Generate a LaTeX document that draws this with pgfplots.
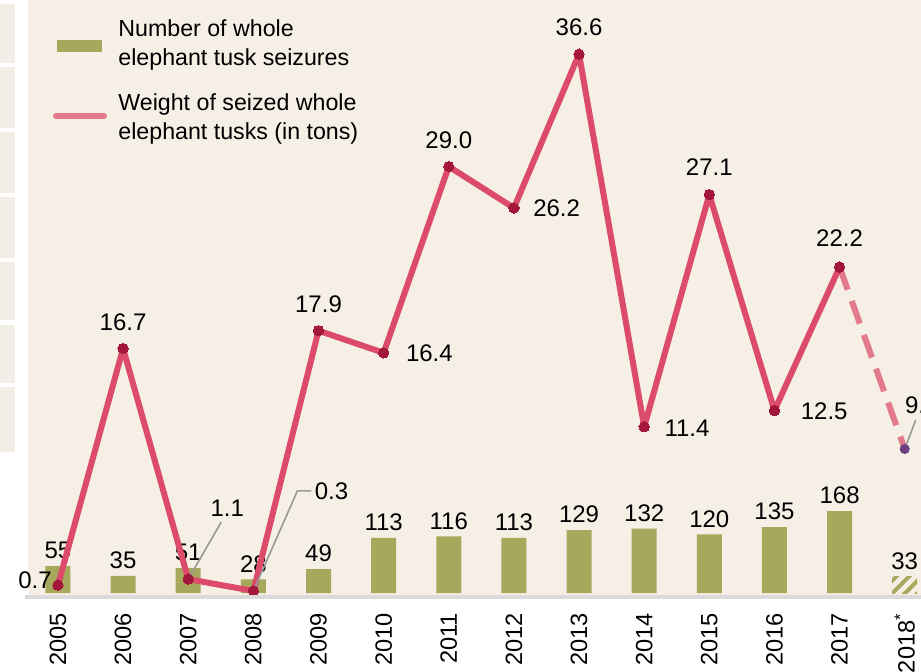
\documentclass[border=0pt]{standalone}
\usepackage{pgfplots}
\pgfplotsset{compat=1.18}
\usepackage{fontspec}
\setmainfont{Liberation Sans}
\usetikzlibrary{patterns.meta}

\definecolor{bg}{HTML}{F5EFE6}
\definecolor{cell}{HTML}{F2EDE6}
\definecolor{olive}{HTML}{A8A85C}
\definecolor{linered}{HTML}{DC4B69}
\definecolor{dotred}{HTML}{A3173A}
\definecolor{dashpink}{HTML}{E27A8B}
\definecolor{purp}{HTML}{6E3F7C}
\definecolor{base}{HTML}{DADADA}

\newcommand{\lab}{\fontsize{12}{12}\selectfont}

\begin{document}
\begin{tikzpicture}
\tikzset{wl/.style={font=\lab, inner sep=0pt}, lead/.style={gray!80, line width=0.8pt}}
% bars: number of seizures
\begin{axis}[
  name=ax, scale only axis, width=446.5pt, height=298.5pt,
  xmin=-0.46, xmax=13.25, ymin=-8.2, ymax=1215,
  axis line style={draw=none}, axis background/.style={fill=bg},
  ytick=\empty, xtick={0,...,13},
  xticklabels={2005,2006,2007,2008,2009,2010,2011,2012,2013,2014,2015,2016,2017,2018\textsuperscript{*}},
  x tick label style={rotate=90, anchor=east, font=\fontsize{11.8}{11.8}\selectfont, xshift=-4.5pt},
  major tick length=0pt, clip=false,
  nodes near coords,
  nodes near coords style={font=\lab, text=black, /pgf/number format/assume math mode=true},
]
\addplot[ybar, bar width=12.5pt, bar shift=0pt, fill=olive, draw=none]
  coordinates {(0,55) (1,35) (2,51) (3,28) (4,49) (5,113) (6,116) (7,113) (8,129) (9,132) (10,120) (11,135) (12,168)};
\addplot[ybar, bar width=12.5pt, bar shift=0pt, draw=none,
  pattern={Lines[angle=45,distance=4.5pt,line width=2pt]}, pattern color=olive]
  coordinates {(13,33)};
\end{axis}
% line: weight in tons
\begin{axis}[
  scale only axis, width=446.5pt, height=298.5pt,
  xmin=-0.46, xmax=13.25, ymin=-0.11, ymax=40.26,
  hide axis, clip=false,
]
\addplot[dashpink, line width=3pt, dash pattern=on 12pt off 6pt]
  coordinates {(12,22.2) (13,9.9)};
\addplot[linered, line width=3pt, line join=round, mark=*, mark size=2.6pt,
  mark options={fill=dotred, draw=dotred, line width=0pt}]
  coordinates {(0,0.7) (1,16.7) (2,1.1) (3,0.3) (4,17.9) (5,16.4) (6,29.0) (7,26.2) (8,36.6) (9,11.4) (10,27.1) (11,12.5) (12,22.2)};
\addplot[only marks, mark=*, mark size=2.3pt, mark options={fill=purp, draw=purp}]
  coordinates {(13,9.9)};
% labels
\node[wl] at ([xshift=-11.5pt,yshift=2.5pt]axis cs:0,0.7) {0.7};
\node[wl] at ([yshift=13pt]axis cs:1,16.7) {16.7};
\draw[lead] (axis cs:2,1.1) -- ([xshift=16.5pt,yshift=28.5pt]axis cs:2,1.1);
\node[wl] at ([xshift=19.5pt,yshift=35.5pt]axis cs:2,1.1) {1.1};
\draw[lead] (axis cs:3,0.3) -- ([xshift=22pt,yshift=50pt]axis cs:3,0.3) -- ([xshift=29pt,yshift=50pt]axis cs:3,0.3);
\node[wl, anchor=west] at ([xshift=30.5pt,yshift=50pt]axis cs:3,0.3) {0.3};
\node[wl] at ([yshift=13pt]axis cs:4,17.9) {17.9};
\node[wl, anchor=west] at ([xshift=11pt,yshift=0pt]axis cs:5,16.4) {16.4};
\node[wl] at ([yshift=13pt]axis cs:6,29.0) {29.0};
\node[wl, anchor=west] at ([xshift=9.5pt,yshift=0pt]axis cs:7,26.2) {26.2};
\node[wl] at ([yshift=13.5pt]axis cs:8,36.6) {36.6};
\node[wl, anchor=west] at ([xshift=10pt,yshift=-0.5pt]axis cs:9,11.4) {11.4};
\node[wl] at ([yshift=13.5pt]axis cs:10,27.1) {27.1};
\node[wl, anchor=west] at ([xshift=13pt,yshift=-0.5pt]axis cs:11,12.5) {12.5};
\node[wl] at ([yshift=14.5pt]axis cs:12,22.2) {22.2};
\draw[lead] (axis cs:13,9.9) -- ([xshift=5.5pt,yshift=14.5pt]axis cs:13,9.9);
\node[wl, anchor=west] at ([xshift=0pt,yshift=22pt]axis cs:13,9.9) {9.9};
\end{axis}
% baseline
\draw[base, line width=2pt] ([xshift=-1.5pt]ax.south west) -- ([xshift=10pt]ax.south east);
% legend
\fill[olive] ([xshift=14.5pt,yshift=-20pt]ax.north west) rectangle ([xshift=37pt,yshift=-26pt]ax.north west);
\draw[dashpink, line width=3pt, line cap=round] ([xshift=14pt,yshift=-58pt]ax.north west) -- ([xshift=38pt,yshift=-58pt]ax.north west);
\node[anchor=west, align=left, font=\fontsize{11.6}{14.5}\selectfont, inner sep=0pt]
  at ([xshift=45pt,yshift=-22.5pt]ax.north west) {Number of whole\\elephant tusk seizures};
\node[anchor=west, align=left, font=\fontsize{11.6}{14.5}\selectfont, inner sep=0pt]
  at ([xshift=45pt,yshift=-59.75pt]ax.north west) {Weight of seized whole\\elephant tusks (in tons)};
% cropped neighbouring panel on the left
\foreach \a/\b in {2/31.5, 33.5/64, 66/96.5, 98.5/129, 131/160, 162.5/191.5, 193.5/226}
  \fill[cell] ([xshift=-14pt,yshift=-\a pt]ax.north west) rectangle ([xshift=-6.5pt,yshift=-\b pt]ax.north west);
\pgfresetboundingbox
\useasboundingbox ([xshift=-14pt,yshift=-37pt]ax.south west) rectangle (ax.north east);
\end{tikzpicture}
\end{document}
